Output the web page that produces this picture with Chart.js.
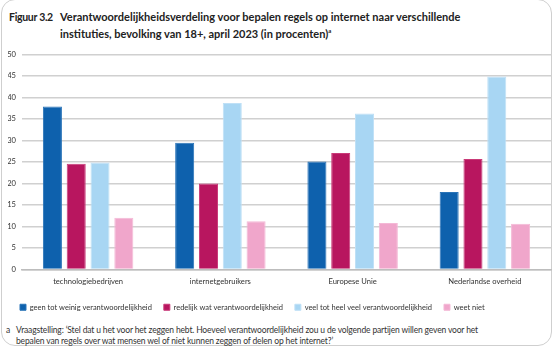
<!DOCTYPE html>
<html>
<head>
<meta charset="utf-8">
<script src="https://cdn.jsdelivr.net/npm/chart.js@4"></script>
<style>
  html, body { margin: 0; padding: 0; background: #fff; }
  body { width: 558px; height: 350px; position: relative; overflow: hidden; font-family: Lato, "Open Sans", sans-serif; }
  .card { position: absolute; left: 1px; top: -1px; width: 551px; height: 347px; border: 1px solid #cfcfcf; border-radius: 14px; box-sizing: border-box; }
  .title { position: absolute; top: 10px; left: 9px; font-size: 11px; font-weight: bold; color: #222; line-height: 14px; }
  .title .nr { position: absolute; left: 0; top: 0; white-space: nowrap; font-size: 10.5px; letter-spacing: -0.3px; }
  .title .txt { position: absolute; left: 51px; top: 0; width: 480px; }
  .chart-box { position: absolute; left: 0; top: 44px; width: 558px; height: 276px; }
  .note { position: absolute; left: 6px; top: 325px; font-size: 8.5px; letter-spacing: -0.15px; color: #333; line-height: 10.5px; }
  .note .a { position: absolute; left: 0; top: 0; }
  .note .t { position: absolute; left: 10px; top: 0; width: 535px; }
</style>
</head>
<body>
<div class="card"></div>
<div class="title">
  <span class="nr">Figuur 3.2</span>
  <div class="txt">Verantwoordelijkheidsverdeling voor bepalen regels op internet naar verschillende<br>instituties, bevolking van 18+, april 2023 (in procenten)<sup style="font-size:6px">a</sup></div>
</div>
<div class="chart-box"><canvas id="chart"></canvas></div>
<div class="note">
  <span class="a">a</span>
  <div class="t">Vraagstelling: ‘Stel dat u het voor het zeggen hebt. Hoeveel verantwoordelijkheid zou u de volgende partijen willen geven voor het<br>bepalen van regels over wat mensen wel of niet kunnen zeggen of delen op het internet?’</div>
</div>
<script>
// data uit de figuur
var categories = ["technologiebedrijven", "internetgebruikers", "Europese Unie", "Nederlandse overheid"];
var seriesNames = ["geen tot weinig verantwoordelijkheid", "redelijk wat verantwoordelijkheid", "veel tot heel veel verantwoordelijkheid", "weet niet"];
var geenWeinig = [37.9, 29.5, 25.1, 18.0];
var redelijk = [24.6, 20.0, 27.1, 25.7];
var veel = [24.9, 38.7, 36.3, 44.9];
var weetNiet = [12.0, 11.2, 10.8, 10.6];
var yTicks = [0, 5, 10, 15, 20, 25, 30, 35, 40, 45, 50];

var kleuren = ["#0e61ad", "#b8165f", "#a8d6f3", "#f0a6cb"];
var randen = ["#2a74b8", "#c93a78", "#bfe0f6", "#f4b8d6"];

// legenda iets dichter bij de as
var legendaKrimp = {
    id: "legendaKrimp",
    afterInit: function(chart) {
        var lg = chart.legend;
        if (!lg) return;
        var fit = lg.fit;
        lg.fit = function() {
            fit.call(this);
            this.height -= 4;
        };
    },
    afterLayout: function(chart) {
        var lg = chart.legend;
        if (!lg) return;
        lg.top -= 3;
        lg.bottom -= 3;
    }
};

document.addEventListener("DOMContentLoaded", function() {
    var canvas = document.getElementById("chart");
    var ctx = canvas.getContext("2d");

    var waarden = [geenWeinig, redelijk, veel, weetNiet];
    var datasets = waarden.map(function(d, i) {
        return {
            label: seriesNames[i],
            data: d,
            backgroundColor: kleuren[i],
            borderColor: randen[i],
            borderWidth: 1,
            barPercentage: 0.8,
            categoryPercentage: 0.72
        };
    });

    new Chart(ctx, {
        type: "bar",
        data: { labels: categories, datasets: datasets },
        plugins: [legendaKrimp],
        options: {
            responsive: true,
            maintainAspectRatio: false,
            animation: false,
            layout: { padding: { left: 8, right: 7, top: 4, bottom: 0 } },
            plugins: {
                tooltip: { enabled: false },
                legend: {
                    position: "bottom",
                    align: "start",
                    labels: {
                        boxWidth: 6,
                        boxHeight: 6,
                        padding: 12,
                        color: "#333",
                        font: { size: 7.5, family: "Lato" }
                    }
                }
            },
            scales: {
                y: {
                    min: 0,
                    max: 50,
                    afterBuildTicks: function(axis) {
                        axis.ticks = yTicks.map(function(v) { return { value: v }; });
                    },
                    afterFit: function(axis) { axis.width = 14; },
                    border: { display: false },
                    grid: {
                        drawTicks: false,
                        color: "#d0d0d0",
                        lineWidth: 1.5
                    },
                    ticks: {
                        padding: 6,
                        color: "#333",
                        font: { size: 7.6, family: "Lato" }
                    }
                },
                x: {
                    border: { display: true, color: "#bdbdbd", width: 1.5 },
                    grid: { display: false, drawTicks: false },
                    ticks: {
                        padding: 8,
                        color: "#333",
                        font: { size: 7.6, family: "Lato" }
                    }
                }
            }
        }
    });
});
</script>
</body>
</html>
